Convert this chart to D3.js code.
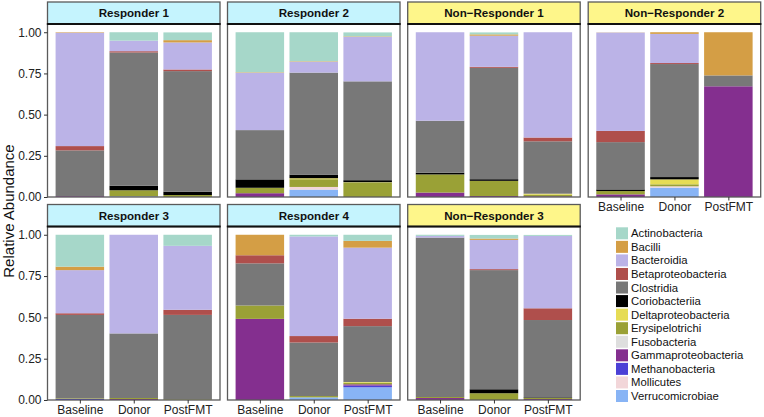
<!DOCTYPE html>
<html><head><meta charset="utf-8">
<script src="https://cdn.jsdelivr.net/npm/d3@7"></script>
<style>body{margin:0;background:#fff}svg{display:block}text{font-family:"Liberation Sans",Arial,Helvetica,sans-serif}</style>
</head><body><svg id="c" width="764" height="417"></svg>
<script>
// Class order (legend order; first class stacked on top)
const classes = ["Actinobacteria","Bacilli","Bacteroidia","Betaproteobacteria","Clostridia","Coriobacteriia","Deltaproteobacteria","Erysipelotrichi","Fusobacteria","Gammaproteobacteria","Methanobacteria","Mollicutes","Verrucomicrobiae"];
const classColors = ["#A6D7C9","#D49E45","#BBB3E7","#AF4F4C","#787878","#000000","#E6DC55","#9AA136","#DEDEDE","#842F8F","#4B40D6","#F2D6D9","#88B4F5"];
const timepoints = ["Baseline","Donor","PostFMT"];
const panelNames = ["Responder 1","Responder 2","Non\u2212Responder 1","Non\u2212Responder 2","Responder 3","Responder 4","Non\u2212Responder 3"];
const panelGroup = ["R","R","NR","NR","R","R","NR"];
const yTicks = [0,0.25,0.5,0.75,1.0];

// Values per timepoint in class order:
// Actino, Bacilli, Bacteroidia, Betaprot, Clostridia, Corio, Deltaprot, Erysip, Fuso, Gammaprot, Methano, Mollicutes, Verruco
const responder1 = [
  [0,0.003,0.688,0.026,0.278,0,0,0,0,0.005,0,0,0],
  [0.051,0,0.064,0.008,0.809,0.027,0,0.037,0,0,0,0,0.004],
  [0.047,0.014,0.164,0.010,0.732,0.020,0,0.012,0,0,0,0,0]
];
const responder2 = [
  [0.243,0.003,0.348,0,0.299,0.051,0,0.033,0,0.023,0,0,0],
  [0.176,0.003,0.066,0,0.619,0.022,0.006,0.047,0,0,0,0.016,0.045],
  [0.024,0.003,0.270,0,0.600,0.012,0.002,0.088,0,0,0,0,0]
];
const nonResponder1 = [
  [0,0,0.537,0,0.316,0.010,0,0.110,0,0.027,0,0,0],
  [0.012,0.008,0.189,0.006,0.676,0.010,0,0.092,0,0.006,0,0,0],
  [0,0,0.639,0.023,0.318,0,0.006,0.010,0,0.004,0,0,0]
];
const nonResponder2 = [
  [0,0.001,0.597,0.068,0.287,0.010,0,0.020,0,0.016,0,0,0],
  [0,0.010,0.177,0.006,0.686,0.014,0.030,0.012,0,0,0,0.008,0.057],
  [0,0.262,0,0,0.066,0,0,0,0,0.672,0,0,0]
];
const responder3 = [
  [0.193,0.021,0.261,0.010,0.505,0,0,0.004,0,0,0.006,0,0],
  [0,0,0.597,0,0.391,0,0,0.006,0,0.006,0,0,0],
  [0.067,0,0.387,0.031,0.511,0,0,0.004,0,0,0,0,0]
];
const responder4 = [
  [0,0.124,0,0.049,0.255,0,0,0.081,0,0.491,0,0,0],
  [0.010,0,0.603,0.039,0.324,0,0,0.008,0,0,0,0,0.016],
  [0.037,0.041,0.430,0.045,0.338,0,0.004,0.010,0,0.008,0.010,0,0.077]
];
const nonResponder3 = [
  [0.007,0,0.010,0,0.965,0,0,0.006,0,0.012,0,0,0],
  [0.022,0.008,0.177,0.006,0.721,0.024,0,0.041,0,0,0,0,0],
  [0.006,0,0.438,0.071,0.468,0.004,0,0.006,0,0.006,0,0,0]
];
const panelData = [responder1,responder2,nonResponder1,nonResponder2,responder3,responder4,nonResponder3];

const svg = d3.select("#c");
const colX = [47.5, 227.5, 407.7, 588.2];
const panelW = 172.5;
const rows = [{stripTop:2, stripBot:24, panelBot:197},{stripTop:204.5, stripBot:226.5, panelBot:400}];
const color = d3.scaleOrdinal().domain(classes).range(classColors);
const stripFill = {R:"#C5F4FE", NR:"#FEF68A"};

panelNames.forEach((name,i)=>{
  const r = i<4?0:1, c = i<4?i:i-4;
  const row = rows[r];
  const x0 = colX[c];
  const g = svg.append("g");
  // x scale: discrete with 0.6 expansion each side
  const x = d3.scaleLinear().domain([0.4,3.6]).range([x0, x0+panelW]);
  const y = d3.scaleLinear().domain([0,1.05]).range([row.panelBot, row.stripBot]);
  const bw = (x(1)-x(0))*0.9;
  g.append("rect").attr("x",x0).attr("y",row.stripBot).attr("width",panelW).attr("height",row.panelBot-row.stripBot).attr("fill","#fff");
  timepoints.forEach((tp,j)=>{
    const vals = panelData[i][j];
    let cum = 0;
    // stack from bottom: last class at bottom
    for(let k=classes.length-1;k>=0;k--){
      const v = vals[k];
      if(v>0){
        g.append("rect").attr("x",x(j+1)-bw/2).attr("width",bw)
          .attr("y",y(cum+v)).attr("height",y(cum)-y(cum+v))
          .attr("fill",color(classes[k]));
      }
      cum += v;
    }
  });
  g.append("rect").attr("x",x0).attr("y",row.stripBot).attr("width",panelW).attr("height",row.panelBot-row.stripBot)
    .attr("fill","none").attr("stroke","#5a5a5a").attr("stroke-width",1.3);
  // strip
  g.append("rect").attr("x",x0).attr("y",row.stripTop).attr("width",panelW).attr("height",row.stripBot-row.stripTop)
    .attr("fill",stripFill[panelGroup[i]]).attr("stroke","#5a5a5a").attr("stroke-width",1.3);
  g.append("line").attr("x1",x0-0.6).attr("x2",x0+panelW+0.6).attr("y1",row.stripBot).attr("y2",row.stripBot)
    .attr("stroke","#111").attr("stroke-width",2.2);
  g.append("text").attr("x",x0+panelW/2).attr("y",(row.stripTop+row.stripBot)/2+4.2)
    .attr("text-anchor","middle").attr("font-weight","bold").attr("font-size","11.6px").attr("fill","#111").text(name);
  // y axis on first column
  if(c===0){
    const ax = g.append("g").attr("transform",`translate(${x0},0)`)
      .call(d3.axisLeft(y).tickValues(yTicks).tickFormat(d3.format(".2f")).tickSize(3.5).tickPadding(2.5));
    ax.select(".domain").remove();
    ax.selectAll("line").attr("stroke","#333").attr("stroke-width",1);
    ax.selectAll("text").attr("font-size","12px").attr("fill","#222").style("font-family","Liberation Sans, Arial, sans-serif");
  }
  // x axis on bottom panels + NR2
  if(r===1 || i===3){
    const xb = d3.scalePoint().domain(timepoints).range([x(1),x(3)]);
    const ax = g.append("g").attr("transform",`translate(0,${row.panelBot})`)
      .call(d3.axisBottom(xb).tickSize(3.5).tickPadding(2));
    ax.select(".domain").remove();
    ax.selectAll("line").attr("stroke","#333").attr("stroke-width",1);
    ax.selectAll("text").attr("font-size","12px").attr("fill","#222").style("font-family","Liberation Sans, Arial, sans-serif");
  }
});

// y title
svg.append("text").attr("transform","translate(13.8,211) rotate(-90)").attr("text-anchor","middle")
  .attr("font-size","15px").attr("fill","#111").text("Relative Abundance");

// legend
const lg = svg.append("g");
const ly = d3.scaleLinear().domain([0,classes.length-1]).range([233.3,396]);
classes.forEach((cl,k)=>{
  lg.append("rect").attr("x",616).attr("y",ly(k)-6).attr("width",12).attr("height",12).attr("fill",color(cl));
  lg.append("text").attr("x",631).attr("y",ly(k)+4).attr("font-size","11.3px").attr("fill","#111").text(cl);
});
</script></body></html>
